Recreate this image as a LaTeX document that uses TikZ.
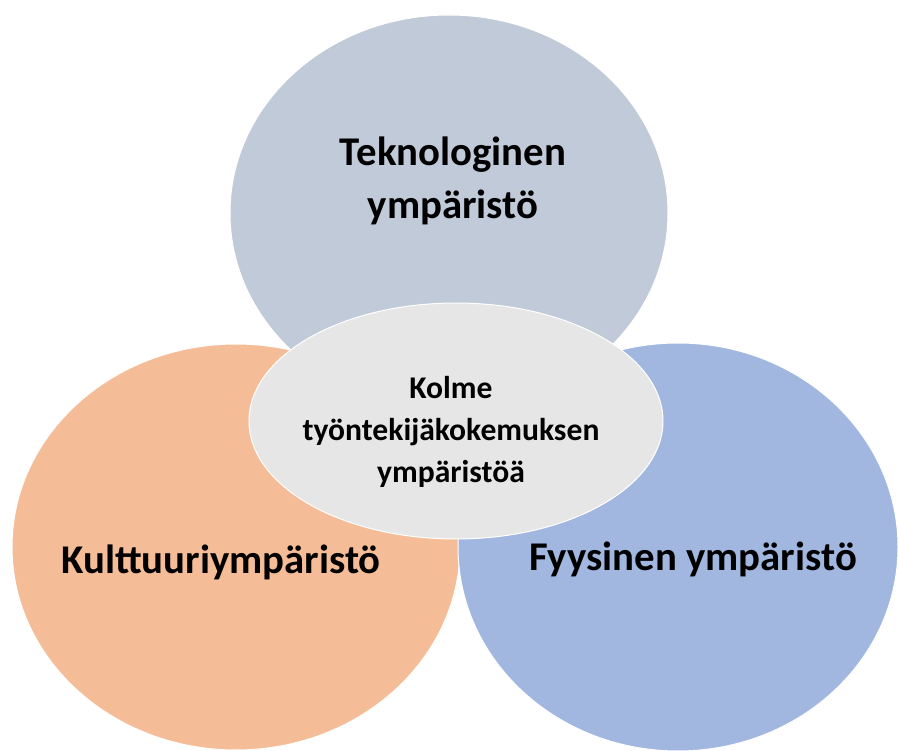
\documentclass[tikz,border=0pt]{standalone}
\usepackage{fontspec}
\setmainfont{Carlito}
\definecolor{tekfill}{HTML}{C0CAD8}
\definecolor{kulfill}{HTML}{F5BD97}
\definecolor{fyyfill}{HTML}{A1B7E0}
\definecolor{midfill}{HTML}{E6E6E6}
\begin{document}
\begin{tikzpicture}[x=1pt, y=-1pt,
    envarea/.style={draw=white, line width=1pt},
    bigtext/.style={font=\fontsize{40.8}{53}\selectfont\bfseries, align=center, inner sep=0pt},
    midtext/.style={font=\fontsize{31.6}{42}\selectfont\bfseries, align=center, inner sep=0pt}]
    \useasboundingbox (0,0) rectangle (898,751);
    \draw[envarea, fill=tekfill] (449,213) ellipse [x radius=219pt, y radius=198pt];
    \draw[envarea, fill=kulfill] (236,547) ellipse [x radius=224pt, y radius=203pt];
    \draw[envarea, fill=fyyfill] (678,547) ellipse [x radius=220pt, y radius=204pt];
    \draw[envarea, fill=midfill] (456,421) ellipse [x radius=207pt, y radius=118pt];
    \node[bigtext] (tek) at (453,181) {Teknologinen\\ympäristö};
    \node[bigtext, anchor=base] (kul) at (221,573) {Kulttuuriympäristö};
    \node[bigtext, anchor=base] (fyy) at (693,570) {Fyysinen ympäristö};
    \node[midtext] (kolme) at (451,432) {Kolme\\työntekijäkokemuksen\\ympäristöä};
\end{tikzpicture}
\end{document}
